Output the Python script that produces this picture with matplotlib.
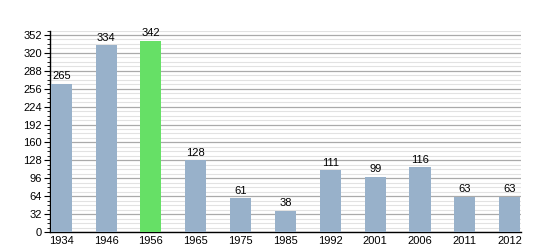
import matplotlib.pyplot as plt
import numpy as np
from matplotlib.ticker import MultipleLocator

plt.rcParams['font.family'] = ['Liberation Sans', 'DejaVu Sans']

years = ['1934', '1946', '1956', '1965', '1975', '1985', '1992', '2001', '2006', '2011', '2012']
population = [265, 334, 342, 128, 61, 38, 111, 99, 116, 63, 63]
highlight = '1956'

fig = plt.figure(figsize=(5.5, 2.5), dpi=100)
ax = fig.add_axes([0.091, 0.072, 0.856, 0.806])

x = np.arange(len(years))
colors = ['#66e066' if y == highlight else '#98b1ca' for y in years]
ax.bar(x, population, width=0.47, color=colors, zorder=3)

for xi, v in zip(x, population):
    ax.text(xi, v + 4, str(v), ha='center', va='bottom', fontsize=8, zorder=4)

ax.set_xlim(-0.25, 10.25)
ax.set_ylim(0, 360)
ax.yaxis.set_major_locator(MultipleLocator(32))
ax.yaxis.set_minor_locator(MultipleLocator(8))
ax.grid(which='major', axis='y', color='#aaaaaa', linewidth=0.9, zorder=1)
ax.grid(which='minor', axis='y', color='#e2e2e2', linewidth=0.8, zorder=0)

ax.set_xticks(x)
ax.set_xticklabels(years)
ax.tick_params(axis='x', length=0, labelsize=8, pad=3)
ax.tick_params(axis='y', which='major', length=4, labelsize=8, pad=2)
ax.tick_params(axis='y', which='minor', length=2)

for s in ['top', 'right']:
    ax.spines[s].set_visible(False)
ax.spines['left'].set_linewidth(1)
ax.spines['bottom'].set_linewidth(1)

fig.savefig('out.png', dpi=100)
